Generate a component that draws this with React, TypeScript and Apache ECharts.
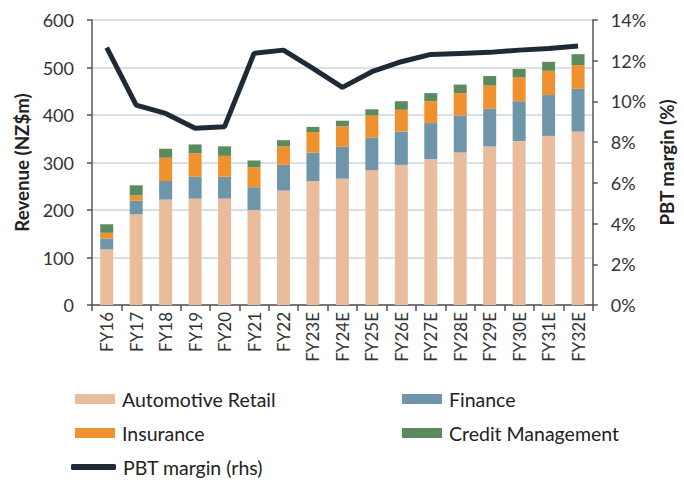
import React, { useEffect, useRef } from "react";
import * as echarts from "echarts";

const categories = ["FY16","FY17","FY18","FY19","FY20","FY21","FY22","FY23E","FY24E","FY25E","FY26E","FY27E","FY28E","FY29E","FY30E","FY31E","FY32E"];
const automotiveRetail = [117,191,222,224,224,200,241,261,266,284,295,307,321,334,345,356,365];
const finance = [23,29,39,46,46,48,54,60,67,68,70,76,78,79,84,86,90];
const insurance = [12,11,49,49,44,42,39,43,43,47,46,46,47,49,50,51,50];
const creditManagement = [18,21,19,19,20,14,13,11,12,13,18,17,18,20,18,19,23];
const pbtMargin = [12.64,9.82,9.41,8.68,8.76,12.36,12.52,11.62,10.69,11.46,11.95,12.31,12.36,12.41,12.52,12.6,12.72];
const revenueTicks = { min: 0, max: 600, interval: 100 };
const marginTicks = { min: 0, max: 14, interval: 2 };

const FONT = "Lato";
const TXT = "#333333";
const AXIS = "#555555";
const COLORS = {
  ar: "#e9bc9b",
  fin: "#6e95aa",
  ins: "#f0912f",
  cm: "#5b8a5d",
  line: "#1f2a37",
};

function legendAt(name: string, left: number, centerY: number, line = false) {
  return {
    left,
    top: centerY - 12,
    padding: 0,
    itemWidth: line ? 45 : 40,
    itemHeight: line ? 6 : 10,
    icon: line ? "roundRect" : "rect",
    textStyle: { fontFamily: FONT, fontSize: 19.5, color: "#222", lineHeight: 22, padding: [0, 0, 0, 2] },
    data: [name],
  };
}

export default function App() {
  const ref = useRef<HTMLDivElement>(null);
  useEffect(() => {
    if (!ref.current) return;
    const chart = echarts.init(ref.current, null, { renderer: "svg" });
    const barCommon = { type: "bar", stack: "rev", barWidth: 13 };
    chart.setOption({
      animation: false,
      textStyle: { fontFamily: FONT },
      grid: { left: 92, right: 91, top: 20, bottom: 175 },
      legend: [
        legendAt("Automotive Retail", 75, 400),
        legendAt("Finance", 402, 400),
        legendAt("Insurance", 75, 434),
        legendAt("Credit Management", 402, 434),
        legendAt("PBT margin (rhs)", 71, 468, true),
      ],
      xAxis: {
        type: "category",
        data: categories,
        axisLine: { lineStyle: { color: AXIS, width: 1.5 } },
        axisTick: { show: true, length: 6, lineStyle: { color: AXIS, width: 1.5 } },
        axisLabel: { rotate: 90, fontSize: 17, color: TXT, margin: 7, fontFamily: FONT },
      },
      yAxis: [
        {
          type: "value", ...revenueTicks,
          name: "Revenue (NZ$m)", nameLocation: "middle", nameGap: 59, nameRotate: 90,
          nameTextStyle: { fontFamily: FONT, fontSize: 18.7, fontWeight: "bold", color: "#222" },
          axisLine: { show: true, lineStyle: { color: AXIS, width: 1.5 } },
          axisTick: { show: true, length: 5, lineStyle: { color: AXIS, width: 1.5 } },
          axisLabel: { fontSize: 18, color: TXT, margin: 18, fontFamily: FONT },
          splitLine: { show: true, lineStyle: { color: "#d8e0e9", width: 2 } },
        },
        {
          type: "value", ...marginTicks, position: "right",
          name: "PBT margin (%)", nameLocation: "middle", nameGap: 64, nameRotate: 90,
          nameTextStyle: { fontFamily: FONT, fontSize: 18.7, fontWeight: "bold", color: "#222" },
          axisLine: { show: true, lineStyle: { color: AXIS, width: 1.5 } },
          axisTick: { show: true, length: 5, lineStyle: { color: AXIS, width: 1.5 } },
          axisLabel: { fontSize: 18, color: TXT, margin: 18, fontFamily: FONT, formatter: "{value}%" },
          splitLine: { show: false },
        },
      ],
      series: [
        { ...barCommon, name: "Automotive Retail", data: automotiveRetail, itemStyle: { color: COLORS.ar } },
        { ...barCommon, name: "Finance", data: finance, itemStyle: { color: COLORS.fin } },
        { ...barCommon, name: "Insurance", data: insurance, itemStyle: { color: COLORS.ins } },
        { ...barCommon, name: "Credit Management", data: creditManagement, itemStyle: { color: COLORS.cm } },
        {
          type: "line", name: "PBT margin (rhs)", yAxisIndex: 1, data: pbtMargin,
          symbol: "none", lineStyle: { color: COLORS.line, width: 5 }, itemStyle: { color: COLORS.line },
        },
      ],
    });
    return () => chart.dispose();
  }, []);
  return <div ref={ref} style={{ width: 684, height: 480, position: "absolute", left: 0, top: 0 }} />;
}
